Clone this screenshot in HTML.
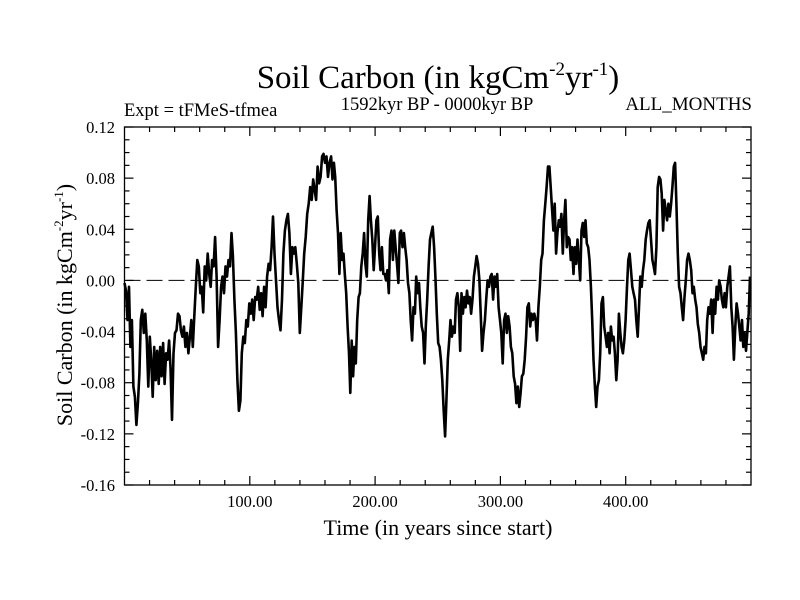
<!DOCTYPE html>
<html><head><meta charset="utf-8"><style>
html,body{margin:0;padding:0;background:#fff;}
svg{display:block;font-family:"Liberation Serif",serif;}
</style></head><body>
<svg id="chart" width="800" height="600" viewBox="0 0 800 600">
<text x="438" y="88" font-size="33" text-anchor="middle">Soil Carbon (in kgCm<tspan font-size="19" dy="-13">-2</tspan><tspan dy="13">yr</tspan><tspan font-size="19" dy="-13">-1</tspan><tspan dy="13">)</tspan></text>
<text x="124" y="116" font-size="18.5">Expt = tFMeS-tfmea</text>
<text x="437" y="110" font-size="18.5" text-anchor="middle">1592kyr BP - 0000kyr BP</text>
<text x="752" y="110" font-size="19" text-anchor="end">ALL_MONTHS</text>
<text x="438" y="535" font-size="22" text-anchor="middle">Time (in years since start)</text>
<text transform="translate(72,305) rotate(-90)" font-size="22" text-anchor="middle">Soil Carbon (in kgCm<tspan font-size="13" dy="-9">-2</tspan><tspan dy="9">yr</tspan><tspan font-size="13" dy="-9">-1</tspan><tspan dy="9">)</tspan></text>
<g id="axes"></g>
<g id="series"></g>
</svg>
<script>
const xDomain = [0, 500];
const yDomain = [-0.16, 0.12];
const xTickLabels = ["100.00", "200.00", "300.00", "400.00"];
const xTickValues = [100, 200, 300, 400];
const yTickValues = [0.12, 0.08, 0.04, 0.00, -0.04, -0.08, -0.12, -0.16];
const yTickLabels = ["0.12", "0.08", "0.04", "0.00", "-0.04", "-0.08", "-0.12", "-0.16"];
const segmentStartYears = [0, 164.9, 339.1];
const segmentEndYears = [163.6, 338.0, 499.2];
const seg1Values = [-.002,-.008,-.031,-.005,-.052,-.031,-.083,-.091,-.113,-.096,-.073,-.031,-.023,-.041,-.026,-.047,-.083,-.044,-.062,-.091,-.052,-.078,-.055,-.081,-.052,-.075,-.049,-.081,-.057,-.062,-.047,-.068,-.109,-.057,-.041,-.039,-.026,-.028,-.039,-.044,-.036,-.052,-.041,-.057,-.044,-.031,-.052,-.028,-.005,.016,.011,-.010,-.005,-.025,.011,.000,.021,.005,-.005,.016,.011,.034,.003,-.052,-.031,-.005,.003,-.010,.011,.003,.016,.011,.037,.019,-.015,-.041,-.078,-.102,-.094,-.057,-.044,-.049,-.031,-.036,-.018,-.026,-.015,-.031,-.013,-.015,-.005,-.023,-.010,-.028,-.005,-.021,.003,.013,.008,.026,.050,.021,.000,-.021,-.031,-.039,-.015,.021,.039,.047,.052,.037,.005,.026,.021,.026,.013,-.002,-.041,-.021,.000,.021,.034,.052,.060,.073,.063,.079,.071,.063,.089,.076,.081,.097,.099,.092,.097,.081,.092];
const seg2Values = [.097,.079,.092,.081,.055,.037,.005,.037,.016,.021,.005,-.010,-.036,-.057,-.088,-.047,-.075,-.052,-.065,-.031,-.013,-.010,.011,.021,.037,.013,.003,.047,.066,.047,.032,.008,.026,.047,.050,.021,.008,.026,.005,.005,.000,.008,-.010,.032,.039,.016,.039,.026,.013,-.002,.037,.039,.026,.037,.026,.016,-.002,-.010,-.031,-.047,-.021,-.026,.003,-.010,-.002,-.021,-.036,-.041,-.065,-.036,-.015,.011,.032,.037,.042,.026,.003,-.026,-.049,-.052,-.062,-.078,-.102,-.122,-.094,-.062,-.047,-.031,-.044,-.036,-.041,-.015,-.010,-.021,-.055,-.010,-.026,-.013,-.021,-.008,-.018,-.013,-.026,-.015,.003,.011,.019,.013,.000,-.026,-.055,-.041,-.031,-.015,.000,-.005,.003,.005,-.015,.003,-.005,.005,-.021,-.031,-.041,-.065,-.031,-.026,-.041,-.028,-.036,-.052,-.057,-.075,-.081,-.096,-.083,-.099,-.088,-.075,-.073,-.062,-.044,-.021,-.018,-.036,-.026,-.031,-.026,-.031,-.047,-.021,-.005,.016,.021,.047,.060,.073,.089];
const seg3Values = [.089,.073,.055,.039,.060,.021,.037,.047,.042,.052,.021,.047,.063,.026,.034,.032,.016,.026,.005,.026,.013,.032,.016,.000,.039,.045,.034,.047,.029,.026,.016,-.005,-.031,-.062,-.083,-.099,-.083,-.078,-.057,-.018,-.013,-.036,-.044,-.052,-.041,-.057,-.036,-.047,-.044,-.057,-.078,-.062,-.026,-.041,-.052,-.057,-.047,-.031,-.005,.016,.021,.008,-.005,-.010,-.015,-.031,-.044,-.021,.003,-.005,.008,.016,.032,.039,.045,.047,.032,.016,.011,.005,.026,.073,.081,.079,.068,.039,.063,.055,.047,.060,.050,.060,.073,.089,.092,.060,.021,-.005,-.010,-.021,-.031,-.013,.000,.016,.021,.016,.008,-.010,-.005,-.015,-.021,-.034,-.041,-.052,-.057,-.062,-.052,-.057,-.031,-.021,-.026,-.015,-.041,-.015,-.026,-.005,-.015,.000,-.005,-.015,-.021,-.010,-.021,-.005,.003,.011,-.021,-.036,-.062,-.036,-.018,-.026,-.036,-.047,-.031,-.052,-.041,-.055,-.041,-.026,.003];

const L = 124.5, R = 751, T = 127, B = 485;
const NS = "http://www.w3.org/2000/svg";
function xScale(v){ return L + (v - xDomain[0]) / (xDomain[1] - xDomain[0]) * (R - L); }
function yScale(v){ return B - (v - yDomain[0]) / (yDomain[1] - yDomain[0]) * (B - T); }
function mk(tag, attrs, parent){ const e = document.createElementNS(NS, tag); for (const k in attrs) e.setAttribute(k, attrs[k]); parent.appendChild(e); return e; }
const axes = document.getElementById('axes');
const frame = mk('rect', {x:L, y:T, width:R-L, height:B-T, fill:'none', stroke:'#000', 'stroke-width':1.3}, axes);


for (let v = 20; v < 500; v += 20) {
  const x = xScale(v), major = v % 100 === 0, len = major ? 9 : 5;
  const t1 = mk('line', {x1:x, x2:x, y1:B, y2:B-len, stroke:'#000', 'stroke-width':1.2}, axes);
  
  
  const t2 = mk('line', {x1:x, x2:x, y1:T, y2:T+len, stroke:'#000', 'stroke-width':1.2}, axes);
  
  
}
xTickValues.forEach((v, i) => {
  const t = mk('text', {x:xScale(v), y:B+22, 'font-size':16.5, 'text-anchor':'middle'}, axes);
  t.textContent = xTickLabels[i];
  
  
});
for (let k = -16; k <= 12; k++) {
  const v = k / 100, y = yScale(v), major = k % 4 === 0, len = major ? 9 : 5;
  const t1 = mk('line', {x1:L, x2:L+len, y1:y, y2:y, stroke:'#000', 'stroke-width':1.2}, axes);
  
  
  const t2 = mk('line', {x1:R, x2:R-len, y1:y, y2:y, stroke:'#000', 'stroke-width':1.2}, axes);
  
  
}
yTickValues.forEach((v, i) => {
  const t = mk('text', {x:115, y:yScale(v)+6, 'font-size':16.5, 'text-anchor':'end'}, axes);
  t.textContent = yTickLabels[i];
  
  
});
const zero = mk('line', {x1:L, x2:R, y1:yScale(0), y2:yScale(0), stroke:'#000', 'stroke-width':1, 'stroke-dasharray':'16 6'}, axes);


const segs = [seg1Values, seg2Values, seg3Values];
let pts = [];
segs.forEach((vals, s) => {
  const a = segmentStartYears[s], b = segmentEndYears[s];
  vals.forEach((v, i) => {
    const yr = a + (b - a) * i / (vals.length - 1);
    pts.push(xScale(yr).toFixed(1) + ',' + yScale(v).toFixed(1));
  });
});
const line = mk('polyline', {points: pts.join(' '), fill:'none', stroke:'#000', 'stroke-width':2.6, 'stroke-linejoin':'round'}, document.getElementById('series'));


</script>
</body></html>
